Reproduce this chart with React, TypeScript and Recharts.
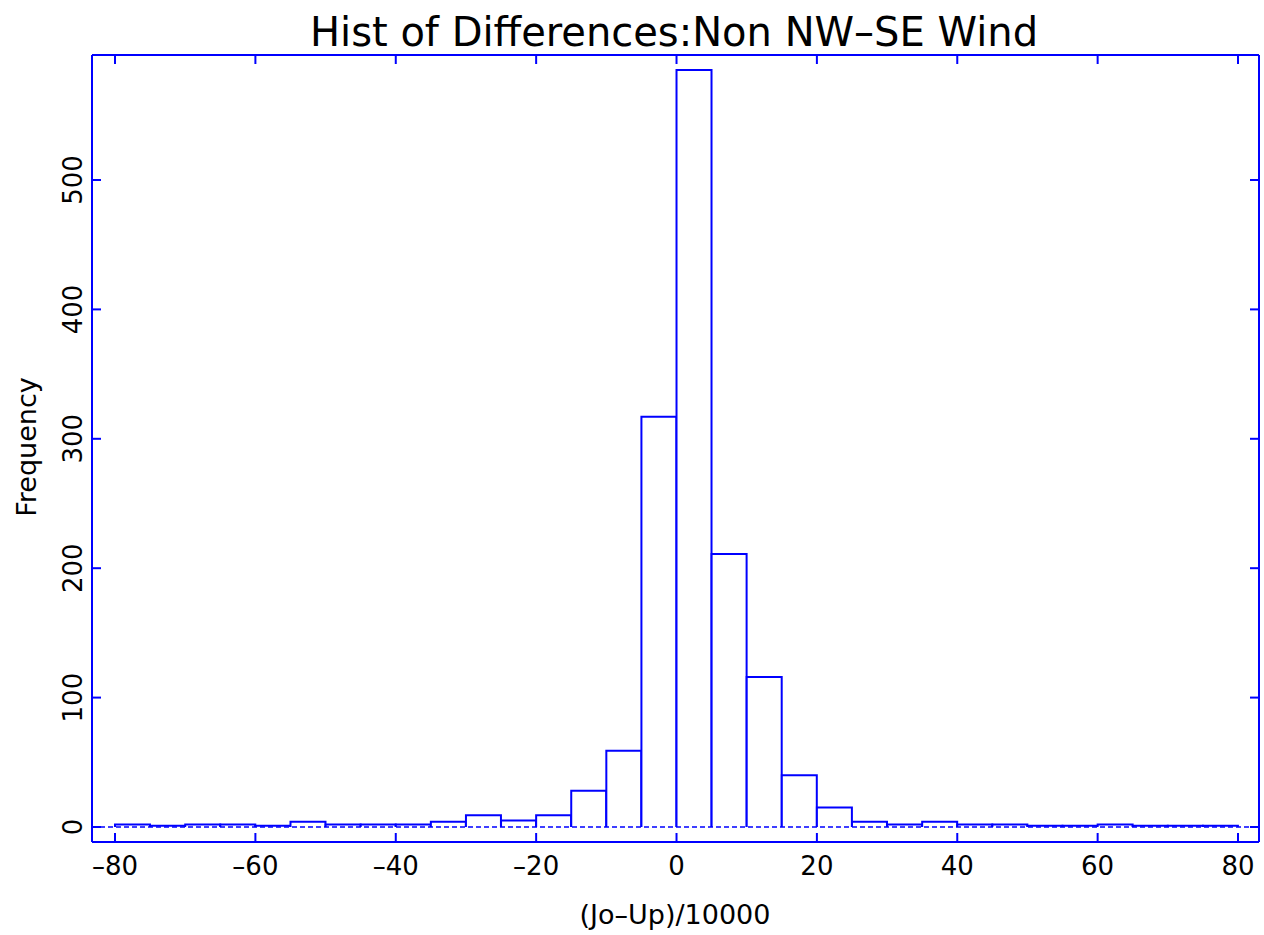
import { ComposedChart, Bar, Line, XAxis, YAxis, ReferenceLine } from "recharts";

// histogram bins, width 5, centre values
const binCenters = [
  -77.5, -72.5, -67.5, -62.5, -57.5, -52.5, -47.5, -42.5, -37.5, -32.5, -27.5, -22.5, -17.5, -12.5, -7.5, -2.5,
  2.5, 7.5, 12.5, 17.5, 22.5, 27.5, 32.5, 37.5, 42.5, 47.5, 52.5, 57.5, 62.5, 67.5, 72.5, 77.5,
];
const counts = [
  2, 1, 2, 2, 1, 4, 2, 2, 2, 4, 9, 5, 9, 28, 59, 317,
  585, 211, 116, 40, 15, 4, 2, 4, 2, 2, 1, 1, 2, 1, 1, 1,
];
const xTicks = [-80, -60, -40, -20, 0, 20, 40, 60, 80];
const yTicks = [0, 100, 200, 300, 400, 500];

const data = binCenters.map((x, i) => ({ x, count: counts[i] }));

const BLUE = "#0000ff";
const FONT = "'DejaVu Sans', sans-serif";
const TICK = 9;
const W = 1264;
const H = 935;
const X_DOMAIN = [-83.28, 82.99];
const Y_DOMAIN = [-11.6, 596.6];

const fmt = (v: number) => (v < 0 ? `\u2013${Math.abs(v)}` : `${v}`);

// open histogram bin: left, top and right edges only
const BinShape = ({ x, y, width, height }: any) => (
  <path
    d={`M${x},${y + height} V${y} H${x + width} V${y + height}`}
    fill="#fff"
    stroke={BLUE}
    strokeWidth={2}
  />
);

const BottomTick = ({ x, y, payload }: any) => (
  <g>
    <line x1={x} y1={y} x2={x} y2={y - TICK} stroke={BLUE} strokeWidth={2} />
    <text x={x} y={y + 33} textAnchor="middle" fontSize={26} fontFamily={FONT} fill="#000">
      {fmt(payload.value)}
    </text>
  </g>
);

const TopTick = ({ x, y }: any) => (
  <line x1={x} y1={y} x2={x} y2={y + TICK} stroke={BLUE} strokeWidth={2} />
);

const LeftTick = ({ x, y, payload }: any) => (
  <g>
    <line x1={x} y1={y} x2={x + TICK} y2={y} stroke={BLUE} strokeWidth={2} />
    <text
      x={x - 10}
      y={y}
      transform={`rotate(-90, ${x - 10}, ${y})`}
      textAnchor="middle"
      fontSize={26}
      fontFamily={FONT}
      fill="#000"
    >
      {payload.value}
    </text>
  </g>
);

const RightTick = ({ x, y }: any) => (
  <line x1={x} y1={y} x2={x - TICK} y2={y} stroke={BLUE} strokeWidth={2} />
);

export default function App() {
  return (
    <div style={{ position: "absolute", left: 0, top: 0, width: W, height: H, background: "#fff" }}>
      <ComposedChart width={W} height={H} data={data} margin={{ top: 54, right: 4, bottom: 0, left: 0 }} barCategoryGap={0} barGap={0}>
        <XAxis
          dataKey="x"
          type="number"
          domain={X_DOMAIN}
          ticks={xTicks}
          allowDataOverflow
          height={93}
          tickSize={0}
          tickMargin={0}
          tickLine={false}
          axisLine={{ stroke: BLUE, strokeWidth: 2 }}
          tick={<BottomTick />}
          interval={0}
        />
        <XAxis
          xAxisId="top"
          dataKey="x"
          orientation="top"
          type="number"
          domain={X_DOMAIN}
          ticks={xTicks}
          allowDataOverflow
          height={1}
          tickSize={0}
          tickMargin={0}
          tickLine={false}
          axisLine={{ stroke: BLUE, strokeWidth: 2 }}
          tick={<TopTick />}
          interval={0}
        />
        <YAxis
          type="number"
          domain={Y_DOMAIN}
          ticks={yTicks}
          allowDataOverflow
          width={92}
          tickSize={0}
          tickMargin={0}
          tickLine={false}
          axisLine={{ stroke: BLUE, strokeWidth: 2 }}
          tick={<LeftTick />}
          interval={0}
        />
        <YAxis
          yAxisId="right"
          orientation="right"
          type="number"
          domain={Y_DOMAIN}
          ticks={yTicks}
          allowDataOverflow
          width={1}
          tickSize={0}
          tickMargin={0}
          tickLine={false}
          axisLine={{ stroke: BLUE, strokeWidth: 2 }}
          tick={<RightTick />}
          interval={0}
        />
        <Bar dataKey="count" shape={<BinShape />} isAnimationActive={false} />
        {/* invisible series so the mirrored top/right axes get drawn */}
        <Line
          xAxisId="top"
          yAxisId="right"
          dataKey="count"
          stroke="none"
          dot={false}
          activeDot={false}
          legendType="none"
          isAnimationActive={false}
        />
        <ReferenceLine y={0} stroke={BLUE} strokeWidth={1.5} strokeDasharray="5 3" />
      </ComposedChart>
      <svg width={W} height={H} style={{ position: "absolute", left: 0, top: 0, pointerEvents: "none" }}>
        <text x={674} y={46} textAnchor="middle" fontSize={40} fontFamily={FONT} fill="#000">
          Hist of Differences:Non NW–SE Wind
        </text>
        <text x={675} y={924} textAnchor="middle" fontSize={27} fontFamily={FONT} fill="#000">
          (Jo–Up)/10000
        </text>
        <text x={36} y={447} transform="rotate(-90, 36, 447)" textAnchor="middle" fontSize={27} fontFamily={FONT} fill="#000">
          Frequency
        </text>
      </svg>
    </div>
  );
}
